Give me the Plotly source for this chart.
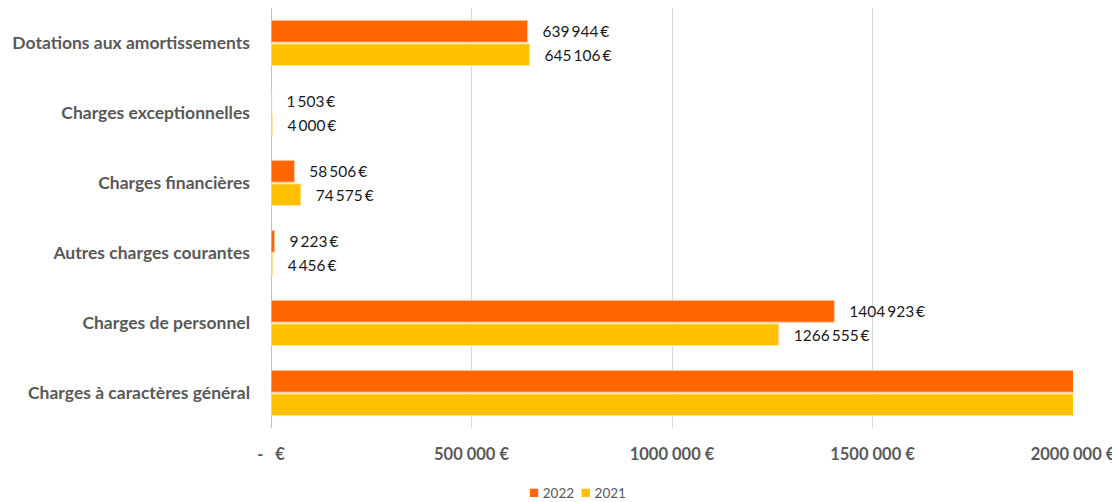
import plotly.graph_objects as go

categories = [
    "Charges à caractères général",
    "Charges de personnel",
    "Autres charges courantes",
    "Charges financières",
    "Charges exceptionnelles",
    "Dotations aux amortissements",
]
values_2022 = [2350000, 1404923, 9223, 58506, 1503, 639944]
values_2021 = [2280000, 1266555, 4456, 74575, 4000, 645106]

tick_vals = [0, 500000, 1000000, 1500000, 2000000]
tick_text = ["-   €", "500 000 €", "1000 000 €", "1500 000 €", "2000 000 €"]
x_max = 2000000

colors = {"2022": "#FF6600", "2021": "#FFC000"}


def euro(v):
    # labels for bars running past the axis end are not shown
    if v > x_max:
        return ""
    s = f"{v:,}".replace(",", "\u2009")
    if v >= 1000000:
        s = s.replace("\u2009", "", 1)
    return "\u00a0\u00a0\u00a0" + s + "\u2009€"


label_font = dict(family="Lato", size=15.5, color="#1a1a1a")

fig = go.Figure()
fig.add_trace(go.Bar(
    y=categories, x=values_2021, name="2021", orientation="h",
    marker=dict(color=colors["2021"], line=dict(color="#ffe9b0", width=1)),
    text=[euro(v) for v in values_2021], textposition="outside",
    textfont=label_font, cliponaxis=True,
))
fig.add_trace(go.Bar(
    y=categories, x=values_2022, name="2022", orientation="h",
    marker=dict(color=colors["2022"], line=dict(color="#ffc8a8", width=1)),
    text=[euro(v) for v in values_2022], textposition="outside",
    textfont=label_font, cliponaxis=True,
))

# compact legend written as text, like the spreadsheet one
legend_text = "\u2002".join(
    f"<span style='color:{colors[k]};font-size:17px'>■</span> {k}" for k in ["2022", "2021"]
)
fig.add_annotation(
    text=legend_text, xref="paper", yref="paper", x=0.382, y=-0.152,
    xanchor="center", yanchor="middle", showarrow=False,
    font=dict(family="Lato", size=13.5, color="#595959"),
)

# the page body adds 8 px on the left and top
fig.update_layout(
    width=1112, height=494,
    margin=dict(l=263, r=47, t=0, b=74, autoexpand=False),
    plot_bgcolor="white", paper_bgcolor="white",
    barmode="group", bargap=0.33, bargroupgap=0.07,
    font=dict(family="Lato", color="#595959"),
    showlegend=False,
)
fig.update_xaxes(
    range=[0, x_max], tickvals=tick_vals, ticktext=tick_text,
    tickfont=dict(size=16.5, color="#595959", family="Lato", weight="bold"),
    showgrid=True, gridcolor="#d9d9d9", gridwidth=1,
    zeroline=True, zerolinecolor="#bfbfbf", zerolinewidth=1,
    ticks="", ticklabelstandoff=14, automargin=False,
)
fig.update_yaxes(
    tickfont=dict(size=17.5, color="#595959", family="Lato", weight="bold"),
    showgrid=False, ticks="", ticklabelstandoff=20, automargin=False,
)

fig.write_html("out.html")
